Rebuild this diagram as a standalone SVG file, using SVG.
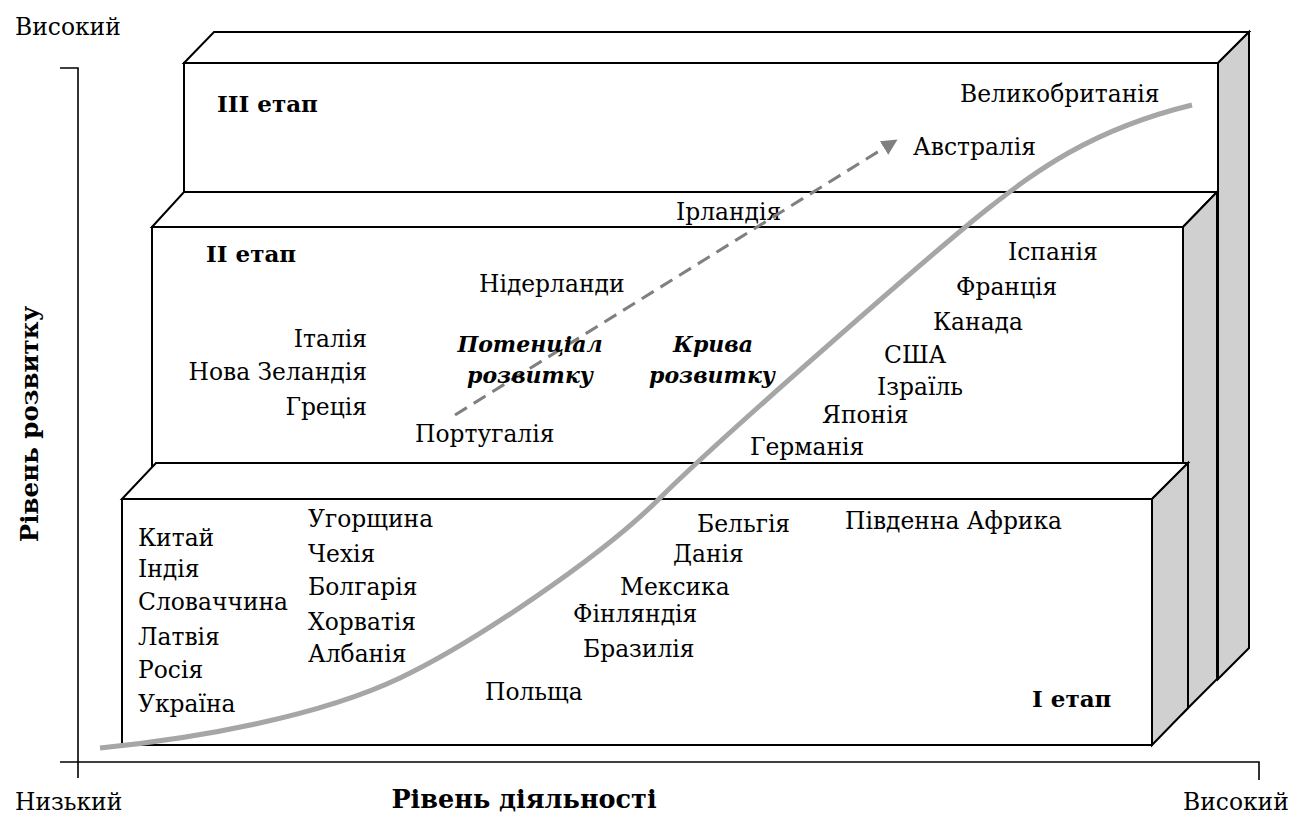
<svg xmlns="http://www.w3.org/2000/svg" width="1296" height="819" viewBox="0 0 1296 819">
<style>
.face{fill:#ffffff;stroke:#000;stroke-width:2;stroke-linejoin:miter}
.side{fill:#d0d0d0;stroke:#000;stroke-width:2;stroke-linejoin:miter}
.axis{fill:none;stroke:#000;stroke-width:1.6}
text{font-family:'DejaVu Serif','Liberation Serif',serif;font-size:23.4px;fill:#000}
.b{font-weight:bold;font-size:23px}
.bi{font-weight:bold;font-style:italic;font-size:22px}
.ax{font-weight:bold;font-size:25.5px}
.ay{font-weight:bold;font-size:24.5px}
.r{text-anchor:end}
.m{text-anchor:middle}
.curve{fill:none;stroke:#a6a6a6;stroke-width:5}
.dash{fill:none;stroke:#808080;stroke-width:3;stroke-dasharray:14 8}
</style>
<defs>
<marker id="ah" markerUnits="userSpaceOnUse" markerWidth="16" markerHeight="16" viewBox="0 0 14 14" refX="0" refY="7" orient="auto">
<path d="M0,0 L14,7 L0,14 z" fill="#808080"/>
</marker>
</defs>
<rect width="1296" height="819" fill="#fff"/>
<g id="axes">
<path class="axis" d="M60,68 H78 V778"/>
<path class="axis" d="M60,762 H1259 V780"/>
<text x="15" y="35">Високий</text>
<text x="15" y="810">Низький</text>
<text x="1183" y="810">Високий</text>
<text class="ax m" x="524" y="808">Рівень діяльності</text>
<text class="ay m" transform="translate(38,424) rotate(-90)">Рівень розвитку</text>
</g>
<g id="stage3">
<rect class="face" x="184" y="63" width="1034" height="616"/>
<polygon class="face" points="184,63 214,32 1249,32 1218,63"/>
<polygon class="side" points="1218,63 1249,32 1249,648 1218,679"/>
<text class="b" x="217" y="112">III етап</text>
<text x="960" y="102">Великобританія</text>
<text x="913" y="155">Австралія</text>
</g>
<g id="stage2">
<rect class="face" x="152" y="227" width="1031" height="486"/>
<polygon class="face" points="152,227 184,192 1217,192 1183,227"/>
<polygon class="side" points="1183,227 1217,192 1217,679 1183,713"/>
<text x="676" y="220">Ірландія</text>
<text class="b" x="206" y="262">II етап</text>
<text x="479" y="292">Нідерланди</text>
<text class="r" x="367" y="347">Італія</text>
<text class="r" x="367" y="380">Нова Зеландія</text>
<text class="r" x="367" y="415">Греція</text>
<text x="415" y="442">Португалія</text>
<text x="1008" y="260">Іспанія</text>
<text x="956" y="295">Франція</text>
<text x="933" y="330">Канада</text>
<text x="884" y="363">США</text>
<text x="877" y="395">Ізраїль</text>
<text x="822" y="423">Японія</text>
<text x="750" y="455">Германія</text>
</g>
<g id="stage1">
<rect class="face" x="122" y="499" width="1030" height="246"/>
<polygon class="face" points="122,499 156,463 1188,463 1152,499"/>
<polygon class="side" points="1152,499 1188,463 1188,708 1152,745"/>
<text x="138" y="546">Китай</text>
<text x="138" y="577">Індія</text>
<text x="138" y="610">Словаччина</text>
<text x="138" y="645">Латвія</text>
<text x="138" y="678">Росія</text>
<text x="138" y="712">Україна</text>
<text x="308" y="527">Угорщина</text>
<text x="308" y="562">Чехія</text>
<text x="308" y="595">Болгарія</text>
<text x="308" y="630">Хорватія</text>
<text x="308" y="662">Албанія</text>
<text x="485" y="700">Польща</text>
<text x="583" y="657">Бразилія</text>
<text x="573" y="622">Фінляндія</text>
<text x="620" y="595">Мексика</text>
<text x="673" y="562">Данія</text>
<text x="697" y="532">Бельгія</text>
<text x="845" y="529">Південна Африка</text>
<text class="b" x="1032" y="707">I етап</text>
</g>
<g id="connectors">
<path class="curve" d="M100,748 C200,738 320,716 400,678 C470,645 600,558 660,498 C720,438 945,242 990,207 C1035,172 1090,130 1192,105"/>
<path class="dash" d="M455,415 L884,148" marker-end="url(#ah)"/>
</g>
<g id="curve-labels">
<text class="bi m" x="530" y="352">Потенціал</text>
<text class="bi m" x="530" y="383">розвитку</text>
<text class="bi m" x="713" y="352">Крива</text>
<text class="bi m" x="712" y="383">розвитку</text>
</g>
</svg>
